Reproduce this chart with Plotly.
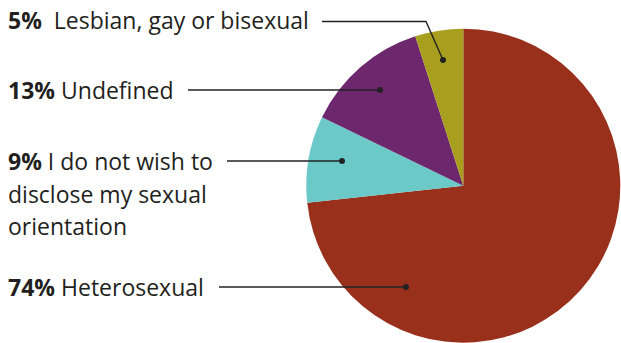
import plotly.graph_objects as go

# Share of respondents by sexual orientation
labels = ["Heterosexual", "I do not wish to disclose my sexual orientation",
          "Undefined", "Lesbian, gay or bisexual"]
values = [74, 9, 13, 5]
colors = ["#98301C", "#6BC9C8", "#6D276D", "#A89F1E"]

# Label text lines (percent in bold, then description)
label_lines = [
    ["<b>74%</b> Heterosexual"],
    ["<b>9%</b> I do not wish to", "disclose my sexual", "orientation"],
    ["<b>13%</b> Undefined"],
    ["<b>5%</b>  Lesbian, gay or bisexual"],
]

W, H = 621, 343
FONT = "Open Sans"
TXT = "#231F20"


def px(x):
    return x / W


def py(y):
    return 1 - y / H


fig = go.Figure(go.Pie(
    labels=labels,
    values=values,
    sort=False,
    direction="clockwise",
    rotation=0,
    marker=dict(colors=colors, line=dict(width=0)),
    textinfo="none",
    hoverinfo="label+percent",
    showlegend=False,
    domain=dict(x=[px(306.3), px(620.3)], y=[py(342.7), py(28.7)]),
))

# label anchor rows (pixel y of text centre) and leader geometry
text_rows = [[287], [161, 194, 226], [90], [20]]
leaders = [
    [(219, 287), (406, 287)],
    [(227, 161), (342, 161)],
    [(188, 90), (380, 90)],
    [(322, 21.5), (426, 21.5), (443, 60)],
]

annotations = []
for lines, rows in zip(label_lines, text_rows):
    for t, yy in zip(lines, rows):
        annotations.append(dict(
            x=px(6), y=py(yy), xref="paper", yref="paper",
            xanchor="left", yanchor="middle", text=t, showarrow=False,
            font=dict(family=FONT, size=23, color=TXT),
        ))

shapes = []
for pts in leaders:
    path = "M " + " L ".join(f"{px(x)} {py(y)}" for x, y in pts)
    shapes.append(dict(type="path", path=path, xref="paper", yref="paper",
                       line=dict(color="#222222", width=1.4)))
    ex, ey = pts[-1]
    r = 3
    shapes.append(dict(type="circle", xref="paper", yref="paper",
                       x0=px(ex - r), x1=px(ex + r), y0=py(ey + r), y1=py(ey - r),
                       fillcolor="#222222", line=dict(width=0)))

fig.update_layout(
    width=W, height=H,
    margin=dict(l=0, r=0, t=0, b=0),
    paper_bgcolor="white",
    plot_bgcolor="white",
    annotations=annotations,
    shapes=shapes,
)

fig.write_html("out.html")
